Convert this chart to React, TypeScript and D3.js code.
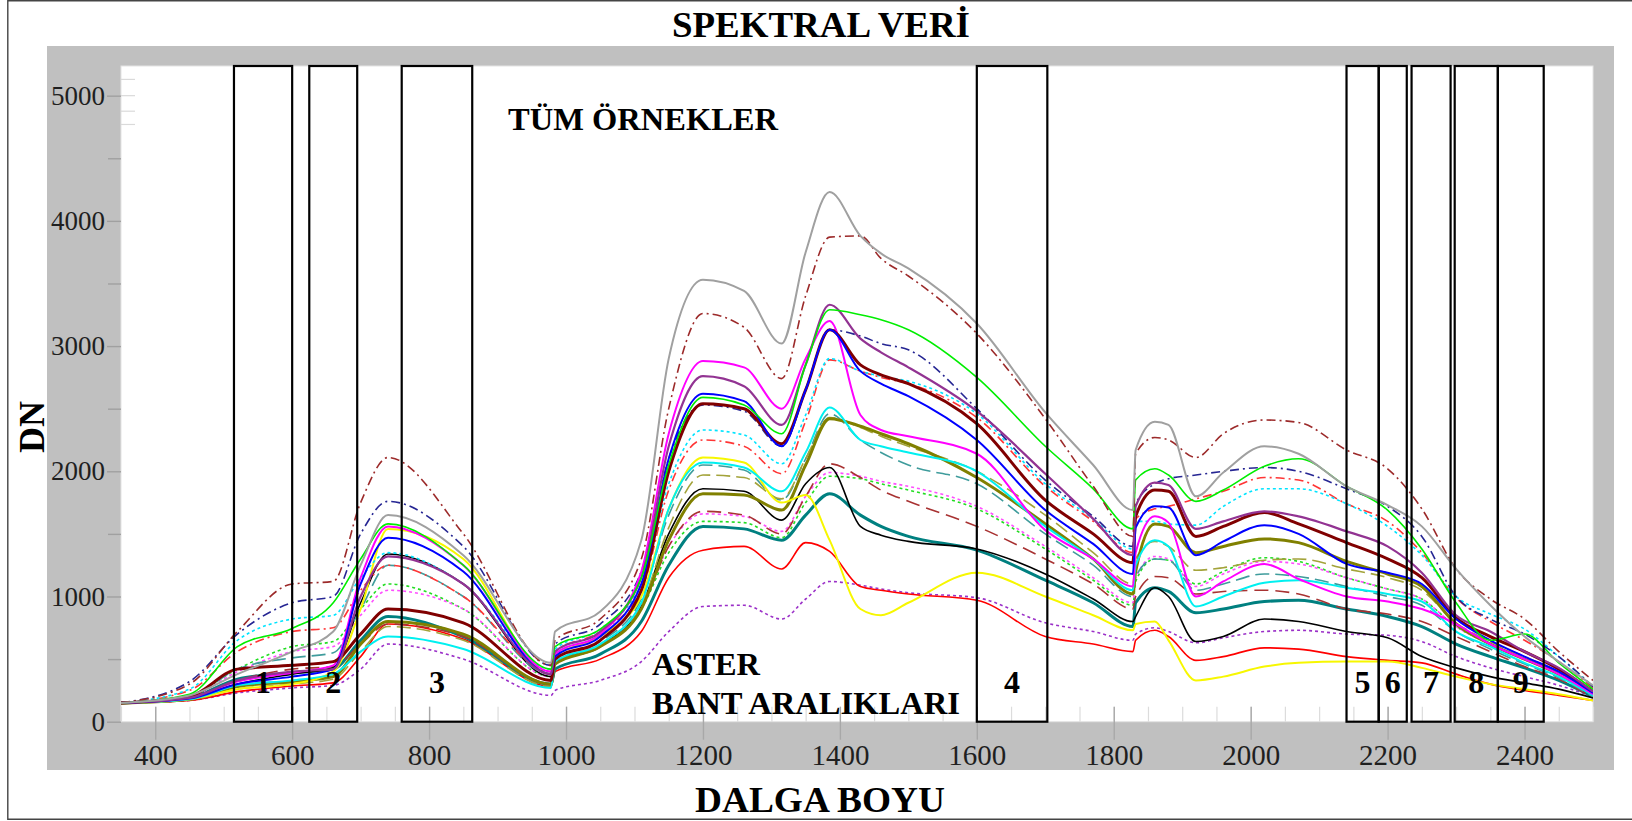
// D3.js — Spectral curves (SPEKTRAL VERİ) with ASTER band ranges
import React, { useEffect, useRef } from "react";
import * as d3 from "d3";

// wavelength grid (nm) for the three detector segments
const vnirWL = [350, 450, 520, 600, 660, 700, 740, 850, 978];
const swir1WL = [984, 1050, 1110, 1150, 1200, 1260, 1315, 1350, 1385, 1430, 1460, 1500, 1600, 1700, 1770, 1828];
const swir2WL = [1832, 1860, 1880, 1920, 1960, 2020, 2070, 2140, 2200, 2250, 2300, 2350, 2400, 2450, 2500];
const wavelengths = [...vnirWL, ...swir1WL, ...swir2WL];

// DN values per sample
const grayDN = [150, 210, 380, 560, 720, 1250, 1650, 1330, 470,
  720, 880, 1450, 2900, 3530, 3440, 3020, 3750, 4230, 3880, 3740, 3620, 3180, 2470, 2050, 1690,
  2170, 2395, 2370, 1800, 1990, 2200, 2140, 1880, 1730, 1560, 1220, 930, 680, 480, 290];
const brownDashDotDN = [150, 300, 720, 1100, 1120, 1750, 2110, 1500, 450,
  650, 820, 1300, 2500, 3260, 3150, 2740, 3400, 3870, 3880, 3700, 3560, 3100, 2420, 1880, 1480,
  2140, 2270, 2250, 2110, 2300, 2410, 2390, 2170, 2020, 1700, 1220, 980, 820, 560, 330];
const greenDN = [150, 220, 600, 745, 950, 1300, 1580, 1250, 420,
  600, 740, 1150, 2050, 2590, 2530, 2300, 2850, 3290, 3250, 3210, 3130, 2750, 2200, 1860, 1540,
  1930, 2020, 1970, 1760, 1850, 2040, 2100, 1880, 1690, 1380, 950, 650, 700, 470, 260];
const purpleDN = [150, 190, 330, 400, 420, 1000, 1320, 1100, 380,
  560, 720, 1150, 2200, 2760, 2680, 2370, 2850, 3330, 3060, 2950, 2830, 2480, 1980, 1620, 1330,
  1720, 1910, 1890, 1540, 1600, 1680, 1640, 1520, 1400, 1190, 850, 720, 560, 430, 240];
const blueDN = [150, 185, 300, 360, 420, 1100, 1470, 1200, 380,
  520, 680, 1100, 2100, 2620, 2560, 2200, 2650, 3130, 2800, 2700, 2600, 2250, 1690, 1420, 1180,
  1550, 1720, 1710, 1330, 1440, 1570, 1500, 1260, 1190, 1100, 820, 650, 520, 400, 230];
const maroonDN = [150, 200, 420, 450, 480, 700, 900, 790, 330,
  500, 650, 1050, 2000, 2540, 2500, 2220, 2650, 3130, 2850, 2770, 2700, 2380, 1770, 1500, 1270,
  1640, 1850, 1840, 1480, 1560, 1670, 1580, 1430, 1300, 1150, 830, 680, 560, 420, 240];
const magentaDN = [150, 190, 320, 390, 450, 1150, 1560, 1250, 400,
  540, 700, 1200, 2300, 2880, 2830, 2500, 2900, 3200, 2450, 2330, 2280, 2140, 1530, 1300, 1080,
  1350, 1640, 1590, 1000, 1120, 1260, 1140, 1000, 960, 900, 780, 620, 500, 380, 220];
const navyDashDotDN = [150, 320, 700, 950, 1000, 1500, 1760, 1400, 450,
  620, 780, 1200, 2100, 2530, 2480, 2200, 2650, 3130, 3080, 3020, 2970, 2500, 1930, 1640, 1400,
  1740, 1900, 1940, 1970, 2000, 2030, 2000, 1860, 1720, 1480, 1000, 820, 700, 520, 280];
const cyanDotDN = [150, 260, 650, 820, 850, 1150, 1350, 1100, 420,
  580, 740, 1100, 1900, 2330, 2290, 2060, 2450, 2900, 2800, 2760, 2720, 2460, 1900, 1620, 1380,
  1600, 1600, 1580, 1570, 1720, 1860, 1860, 1740, 1560, 1330, 1000, 860, 740, 520, 280];
const redDashDotDN = [150, 250, 560, 720, 750, 1050, 1250, 1000, 400,
  560, 720, 1050, 1850, 2250, 2200, 1980, 2400, 2890, 2800, 2750, 2700, 2430, 1880, 1600, 1350,
  1620, 1700, 1720, 1780, 1840, 1950, 1930, 1740, 1600, 1350, 990, 800, 650, 480, 270];
const cyanDN = [150, 180, 290, 330, 380, 560, 680, 580, 270,
  480, 620, 950, 1700, 2070, 2030, 1840, 2150, 2510, 2250, 2200, 2150, 2000, 1560, 1300, 1050,
  1250, 1450, 1400, 920, 1000, 1110, 1130, 1070, 1020, 960, 720, 600, 470, 360, 210];
const yellowDN = [150, 180, 260, 300, 400, 900, 1540, 1300, 380,
  520, 680, 1000, 1700, 2110, 2070, 1750, 1810, 1450, 900, 850, 950, 1190, 1000, 850, 730,
  780, 800, 650, 330, 360, 440, 470, 480, 480, 430, 360, 300, 260, 220, 170];
const oliveDN = [150, 180, 280, 320, 360, 620, 800, 700, 300,
  460, 600, 900, 1450, 1820, 1810, 1690, 2050, 2420, 2360, 2300, 2220, 1950, 1580, 1300, 1020,
  1200, 1580, 1560, 1350, 1400, 1460, 1430, 1280, 1180, 1080, 780, 620, 500, 380, 220];
const oliveDashDN = [150, 175, 260, 300, 340, 560, 760, 650, 280,
  460, 600, 920, 1550, 1970, 1950, 1780, 2100, 2430, 2350, 2280, 2200, 2000, 1650, 1350, 1100,
  1300, 1440, 1400, 1210, 1230, 1290, 1300, 1220, 1150, 1050, 790, 640, 520, 390, 220];
const tealDashDN = [150, 200, 420, 510, 550, 900, 1250, 1000, 380,
  500, 640, 980, 1650, 2050, 2010, 1770, 2100, 2460, 2250, 2150, 2050, 1900, 1500, 1250, 1000,
  1160, 1300, 1290, 1050, 1100, 1180, 1160, 1080, 1000, 930, 720, 580, 460, 350, 200];
const blackDN = [150, 190, 300, 380, 430, 950, 1340, 1100, 360,
  470, 610, 920, 1500, 1860, 1840, 1610, 1900, 2030, 1560, 1490, 1440, 1380, 1180, 980, 800,
  840, 1070, 1000, 640, 680, 820, 800, 720, 670, 520, 430, 360, 310, 260, 190];
const brownDashDN = [150, 190, 330, 420, 440, 620, 780, 680, 300,
  460, 600, 900, 1400, 1680, 1650, 1500, 1800, 2060, 1950, 1850, 1760, 1560, 1300, 1100, 900,
  1000, 1160, 1150, 1020, 1040, 1050, 1020, 900, 860, 800, 680, 560, 440, 340, 190];
const magentaDotDN = [150, 200, 400, 560, 600, 850, 1050, 900, 360,
  470, 610, 920, 1400, 1660, 1640, 1520, 1800, 1990, 1960, 1920, 1880, 1720, 1400, 1150, 950,
  1150, 1320, 1300, 1080, 1180, 1280, 1260, 1150, 1060, 980, 760, 620, 500, 380, 210];
const greenDotDN = [150, 210, 420, 600, 640, 900, 1100, 900, 360,
  460, 600, 900, 1350, 1600, 1590, 1470, 1750, 1960, 1940, 1900, 1850, 1700, 1380, 1130, 930,
  1120, 1300, 1290, 1100, 1200, 1310, 1280, 1150, 1060, 980, 760, 620, 500, 380, 210];
const tealDN = [150, 190, 340, 390, 420, 650, 840, 680, 300,
  420, 540, 800, 1250, 1560, 1540, 1450, 1650, 1820, 1650, 1560, 1480, 1370, 1130, 950, 760,
  950, 1070, 1040, 870, 900, 960, 970, 900, 840, 760, 620, 520, 430, 330, 200];
const redDN = [150, 170, 240, 285, 310, 520, 780, 660, 280,
  400, 500, 720, 1150, 1370, 1400, 1220, 1430, 1360, 1080, 1050, 1020, 970, 680, 620, 560,
  650, 730, 680, 490, 520, 590, 580, 520, 490, 470, 380, 300, 250, 210, 170];
const purpleDotDN = [150, 170, 230, 270, 290, 420, 620, 500, 210,
  250, 330, 480, 720, 920, 930, 820, 980, 1120, 1090, 1060, 1030, 990, 790, 720, 650,
  700, 750, 720, 630, 670, 720, 730, 700, 690, 640, 520, 430, 360, 290, 200];

const series = [
  { values: purpleDotDN, color: "#9b30c8", width: 1.6, dash: "3,3" },
  { values: redDN, color: "#ff0000", width: 1.6, dash: null },
  { values: tealDN, color: "#008080", width: 3, dash: null },
  { values: greenDotDN, color: "#22dd22", width: 1.6, dash: "3,3" },
  { values: magentaDotDN, color: "#ff4dff", width: 1.6, dash: "3,3" },
  { values: brownDashDN, color: "#a83232", width: 1.6, dash: "14,7" },
  { values: blackDN, color: "#000000", width: 1.6, dash: null },
  { values: tealDashDN, color: "#3f9c9c", width: 1.6, dash: "14,6" },
  { values: oliveDashDN, color: "#a3a33a", width: 1.6, dash: "14,6" },
  { values: oliveDN, color: "#808000", width: 3, dash: null },
  { values: yellowDN, color: "#f7f700", width: 2, dash: null },
  { values: cyanDN, color: "#00f0f0", width: 2, dash: null },
  { values: redDashDotDN, color: "#ff3535", width: 1.6, dash: "9,4,2,4" },
  { values: cyanDotDN, color: "#00e4ff", width: 1.6, dash: "3,3" },
  { values: navyDashDotDN, color: "#262693", width: 1.6, dash: "9,4,2,4" },
  { values: magentaDN, color: "#ff00ff", width: 2, dash: null },
  { values: maroonDN, color: "#800000", width: 3, dash: null },
  { values: blueDN, color: "#0000ff", width: 2, dash: null },
  { values: purpleDN, color: "#923392", width: 2.2, dash: null },
  { values: greenDN, color: "#00ee00", width: 1.6, dash: null },
  { values: brownDashDotDN, color: "#9c2a2a", width: 1.6, dash: "9,4,2,4" },
  { values: grayDN, color: "#a0a0a0", width: 2, dash: null },
];

// ASTER band ranges (nm)
const bandStart = [515, 625, 760, 1600, 2140, 2187, 2235, 2298, 2361];
const bandEnd = [600, 695, 863, 1703, 2187, 2228, 2292, 2361, 2428];
const bandLabels = ["1", "2", "3", "4", "5", "6", "7", "8", "9"];

const xTicks = [400, 600, 800, 1000, 1200, 1400, 1600, 1800, 2000, 2200, 2400];
const yTicks = [0, 1000, 2000, 3000, 4000, 5000];
const yMinorTicks = [500, 1500, 2500, 3500, 4500];
const yInnerTicks = [4770, 4876, 5000, 5130];

const FONT = "'Liberation Serif', 'Times New Roman', serif";

const App: React.FC = () => {
  const svgRef = useRef<SVGSVGElement>(null);

  useEffect(() => {
    if (!svgRef.current) return;
    const W = 1632, H = 821;
    const plot = { left: 121, right: 1593, top: 66, bottom: 721.7 };
    const yTop = 5237;

    const svg = d3.select(svgRef.current);
    svg.selectAll("*").remove();
    svg.attr("width", W).attr("height", H);

    const x = d3.scaleLinear().domain([350, 2500]).range([plot.left, plot.right]);
    const y = d3.scaleLinear().domain([0, yTop]).range([plot.bottom, plot.top]);

    // outer frame (right side runs off the page)
    svg.append("path")
      .attr("d", `M${W + 5},0.8 H7.8 V819.2 H${W + 5}`)
      .attr("fill", "none").attr("stroke", "#444").attr("stroke-width", 1.4);

    // grey panel + white plot area
    svg.append("rect").attr("x", 47).attr("y", 46).attr("width", 1567).attr("height", 724).attr("fill", "#c0c0c0");
    svg.append("rect")
      .attr("x", plot.left).attr("y", plot.top)
      .attr("width", plot.right - plot.left).attr("height", plot.bottom - plot.top)
      .attr("fill", "#fff").attr("stroke", "#e4e4e4").attr("stroke-width", 1);

    // x minor ticks inside plot
    svg.append("g")
      .attr("transform", `translate(0,${plot.bottom - 15})`)
      .call(d3.axisBottom(x).ticks(43).tickSize(15).tickFormat(() => ""))
      .call(g => g.select(".domain").remove())
      .call(g => g.selectAll(".tick line").attr("stroke", "#dcdcdc").attr("stroke-width", 1.2));

    // x major ticks + labels
    svg.append("g")
      .attr("transform", `translate(0,${plot.bottom - 15})`)
      .call(d3.axisBottom(x).tickValues(xTicks).tickSize(33).tickPadding(5).tickFormat(d => `${d}`))
      .call(g => g.select(".domain").remove())
      .call(g => g.selectAll(".tick line").attr("stroke", "#a8a8a8").attr("stroke-width", 1.4))
      .call(g => g.selectAll(".tick text")
        .attr("fill", "#1f1f1f").attr("font-size", 29).attr("font-family", FONT));

    // y minor ticks
    svg.append("g")
      .attr("transform", `translate(${plot.left},0)`)
      .call(d3.axisLeft(y).tickValues(yMinorTicks).tickSize(13).tickFormat(() => ""))
      .call(g => g.select(".domain").remove())
      .call(g => g.selectAll(".tick line").attr("stroke", "#a0a0a0").attr("stroke-width", 1.4));

    // y major ticks + labels
    svg.append("g")
      .attr("transform", `translate(${plot.left},0)`)
      .call(d3.axisLeft(y).tickValues(yTicks).tickSize(14).tickPadding(2).tickFormat(d => `${d}`))
      .call(g => g.select(".domain").remove())
      .call(g => g.selectAll(".tick line").attr("stroke", "#a0a0a0").attr("stroke-width", 1.4))
      .call(g => g.selectAll(".tick text")
        .attr("fill", "#1f1f1f").attr("font-size", 27).attr("font-family", FONT));

    // faint marks inside the top-left corner
    svg.append("g")
      .selectAll("line")
      .data(yInnerTicks)
      .join("line")
      .attr("x1", plot.left).attr("x2", plot.left + 14)
      .attr("y1", d => y(d)).attr("y2", d => y(d))
      .attr("stroke", "#dadada").attr("stroke-width", 1.2);

    // spectra
    const clipId = "plot-clip";
    svg.append("clipPath").attr("id", clipId)
      .append("rect")
      .attr("x", plot.left).attr("y", plot.top)
      .attr("width", plot.right - plot.left).attr("height", plot.bottom - plot.top);

    const line = d3.line<number>()
      .x((_, i) => x(wavelengths[i]))
      .y(d => y(d))
      .curve(d3.curveMonotoneX);

    svg.append("g")
      .attr("clip-path", `url(#${clipId})`)
      .selectAll("path")
      .data(series)
      .join("path")
      .attr("d", d => line(d.values))
      .attr("fill", "none")
      .attr("stroke", d => d.color)
      .attr("stroke-width", d => d.width)
      .attr("stroke-dasharray", d => d.dash)
      .attr("stroke-linejoin", "round");

    // ASTER band boxes
    const bands = bandStart.map((s, i) => ({ s, e: bandEnd[i], label: bandLabels[i] }));
    svg.append("g")
      .selectAll("rect")
      .data(bands)
      .join("rect")
      .attr("x", d => x(d.s))
      .attr("y", y(yTop))
      .attr("width", d => x(d.e) - x(d.s))
      .attr("height", y(0) - y(yTop))
      .attr("fill", "none")
      .attr("stroke", "#000")
      .attr("stroke-width", 2.2);

    svg.append("g")
      .selectAll("text")
      .data(bands)
      .join("text")
      .attr("x", d => x((d.s + d.e) / 2))
      .attr("y", y(230))
      .attr("text-anchor", "middle")
      .attr("font-family", FONT)
      .attr("font-weight", "bold")
      .attr("font-size", 32)
      .text(d => d.label);

    // texts
    const addText = (t: string, xx: number, yy: number, size: number, len?: number, anchor = "start") => {
      const el = svg.append("text")
        .attr("x", xx).attr("y", yy)
        .attr("font-family", FONT).attr("font-weight", "bold")
        .attr("font-size", size).attr("fill", "#000")
        .attr("text-anchor", anchor)
        .text(t);
      if (len) el.attr("textLength", len).attr("lengthAdjust", "spacingAndGlyphs");
      return el;
    };

    addText("SPEKTRAL VERİ", 821, 37, 35, 298, "middle");
    addText("TÜM ÖRNEKLER", 508, 130, 32, 270);
    addText("ASTER", 652, 675, 31, 108);
    addText("BANT ARALIKLARI", 652, 714, 31, 308);
    addText("DALGA BOYU", 820, 812, 36, 250, "middle");

    svg.append("text")
      .attr("transform", `translate(44,427) rotate(-90)`)
      .attr("text-anchor", "middle")
      .attr("font-family", FONT).attr("font-weight", "bold")
      .attr("font-size", 36)
      .text("DN");
  }, []);

  return (
    <svg
      ref={svgRef}
      style={{ position: "absolute", left: 0, top: 0, display: "block", background: "#fff" }}
    />
  );
};

export default App;
